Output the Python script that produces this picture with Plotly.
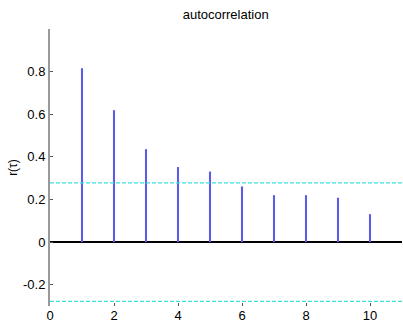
import plotly.graph_objects as go

lags = [1, 2, 3, 4, 5, 6, 7, 8, 9, 10]
acf = [0.816, 0.619, 0.436, 0.352, 0.331, 0.261, 0.220, 0.220, 0.208, 0.131]
conf = 0.278
x_ticks = [0, 2, 4, 6, 8, 10]
y_ticks = [-0.2, 0, 0.2, 0.4, 0.6, 0.8]
y_tick_text = ["-0.2", "0", "0.2", "0.4", "0.6", "0.8"]

fig = go.Figure()
fig.add_trace(go.Bar(x=lags, y=acf, width=0.065,
                     marker=dict(color="#5b5be6", line=dict(width=0))))

for c in (conf, -conf):
    fig.add_shape(type="line", xref="paper", x0=0, x1=1, yref="y", y0=c, y1=c,
                  line=dict(color="#3ddede", width=1.2, dash="4px,2px"))

fig.update_layout(
    width=403, height=323,
    margin=dict(l=50, r=1, t=29, b=17, autoexpand=False),
    paper_bgcolor="white", plot_bgcolor="white",
    showlegend=False,
    title=dict(text="autocorrelation", x=0.56, xanchor="center", y=1 - 14 / 323, yanchor="middle",
               font=dict(family="Liberation Sans, Arial", size=13, color="black")),
    font=dict(family="Liberation Sans, Arial", size=13, color="black"),
    xaxis=dict(range=[0, 11], tickvals=x_ticks, ticks="inside", ticklen=3,
               tickcolor="#555", showgrid=False, zeroline=False, showline=False,
               tickfont=dict(size=13)),
    yaxis=dict(range=[-0.3, 1.0], tickvals=y_ticks, ticktext=y_tick_text,
               ticks="inside", ticklen=3, tickcolor="#555", showgrid=False,
               showline=True, linecolor="#999999", linewidth=2,
               zeroline=True, zerolinecolor="black", zerolinewidth=1.5,
               title=dict(text="r(τ)", standoff=3, font=dict(size=12)),
               tickfont=dict(size=13)),
)

fig.write_html("out.html", config={"displayModeBar": False},
               post_script="document.body.style.margin='0';")
